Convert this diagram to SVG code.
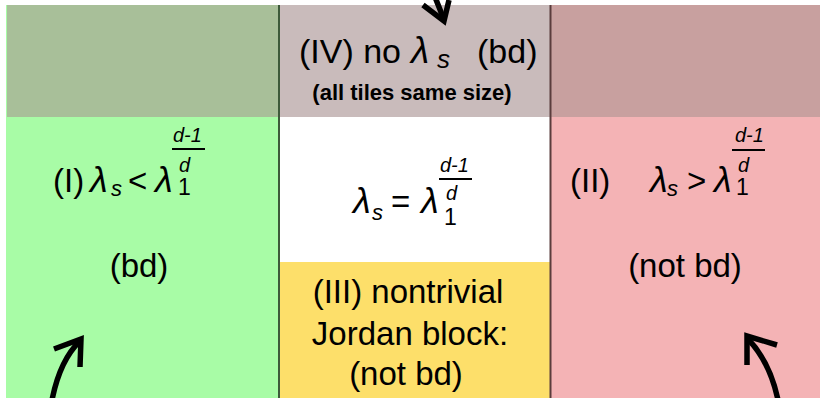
<svg xmlns="http://www.w3.org/2000/svg" width="820" height="398" viewBox="0 0 820 398">
<style>
text{font-family:"Liberation Sans",Arial,sans-serif;fill:#000}
.m{font-size:33px}
.t{font-size:34px}
.l{font-size:36px;font-style:italic}
.sub{font-size:22px;font-style:italic}
.one{font-size:23px}
.ex{font-size:20px;font-style:italic}
.bar{stroke:#000;stroke-width:2}
.arr{fill:none;stroke:#000;stroke-width:5.5}
</style>
<rect width="820" height="398" fill="#fff"/>
<g id="region-I">
<rect x="6" y="5" width="273" height="393" fill="#a8fca6"/>
<text class="m" x="53" y="192">(I)</text>
<text class="l" x="90" y="192">λ</text>
<text class="sub" x="111" y="196">s</text>
<text class="m" x="128" y="192">&lt;</text>
<text class="l" x="155" y="192">λ</text>
<text class="one" x="178" y="195">1</text>
<text class="ex" x="179" y="172">d</text>
<line class="bar" x1="172" y1="149" x2="205" y2="149"/>
<text class="ex" x="173" y="142">d-1</text>
<text class="m" x="139" y="277" text-anchor="middle">(bd)</text>
</g>
<g id="region-eq">
<rect x="279" y="5" width="271" height="258" fill="#fff"/>
<text class="l" x="353" y="213">λ</text>
<text class="sub" x="372" y="220">s</text>
<text class="m" x="391" y="213">=</text>
<text class="l" x="421" y="213">λ</text>
<text class="one" x="444" y="225">1</text>
<text class="ex" x="446" y="200">d</text>
<line class="bar" x1="439" y1="179" x2="472" y2="179"/>
<text class="ex" x="440" y="172">d-1</text>
</g>
<g id="region-II">
<rect x="550" y="5" width="270" height="393" fill="#f4b3b5"/>
<text class="m" x="570" y="192">(II)</text>
<text class="l" x="650" y="192">λ</text>
<text class="sub" x="667" y="196">s</text>
<text class="m" x="687" y="192">&gt;</text>
<text class="l" x="714" y="192">λ</text>
<text class="one" x="736" y="195">1</text>
<text class="ex" x="738" y="172">d</text>
<line class="bar" x1="732" y1="150" x2="765" y2="150"/>
<text class="ex" x="735" y="142">d-1</text>
<text class="m" x="685" y="277" text-anchor="middle">(not bd)</text>
</g>
<g id="region-III">
<rect x="280" y="262" width="271" height="136" fill="#fddf6a"/>
<text class="m" x="408" y="303" text-anchor="middle">(III) nontrivial</text>
<text class="m" x="410" y="345" text-anchor="middle">Jordan block:</text>
<text class="m" x="406" y="385" text-anchor="middle">(not bd)</text>
</g>
<g id="region-IV">
<rect x="7" y="5" width="272" height="112" fill="#a8bf99"/>
<rect x="279" y="5" width="271" height="112" fill="#c9bbbb"/>
<rect x="550" y="5" width="270" height="112" fill="#c8a09f"/>
<text class="t" x="299" y="63">(IV) no</text>
<text x="411" y="63" font-size="37" font-style="italic">λ</text>
<text x="437" y="68" font-size="26" font-style="italic">s</text>
<text class="t" x="477" y="63">(bd)</text>
<text x="412" y="100" text-anchor="middle" font-size="22" font-weight="bold">(all tiles same size)</text>
</g>
<g id="borders">
<line x1="279" y1="5" x2="279" y2="398" stroke="#3d5a3a" stroke-width="2"/>
<line x1="550.5" y1="5" x2="550.5" y2="398" stroke="#5a3c3c" stroke-width="2"/>
</g>
<g id="connectors">
<path class="arr" d="M52,400 Q60,360 80,341"/>
<path class="arr" d="M54,349 L81,339 L80,367"/>
<path class="arr" d="M778,400 Q770,362 748,339"/>
<path class="arr" d="M777,345 L747,336 L747,365"/>
<path class="arr" d="M444,20 Q438,4 432,-10"/>
<path class="arr" d="M423,5 L444,21 L449,0"/>
</g>
</svg>
